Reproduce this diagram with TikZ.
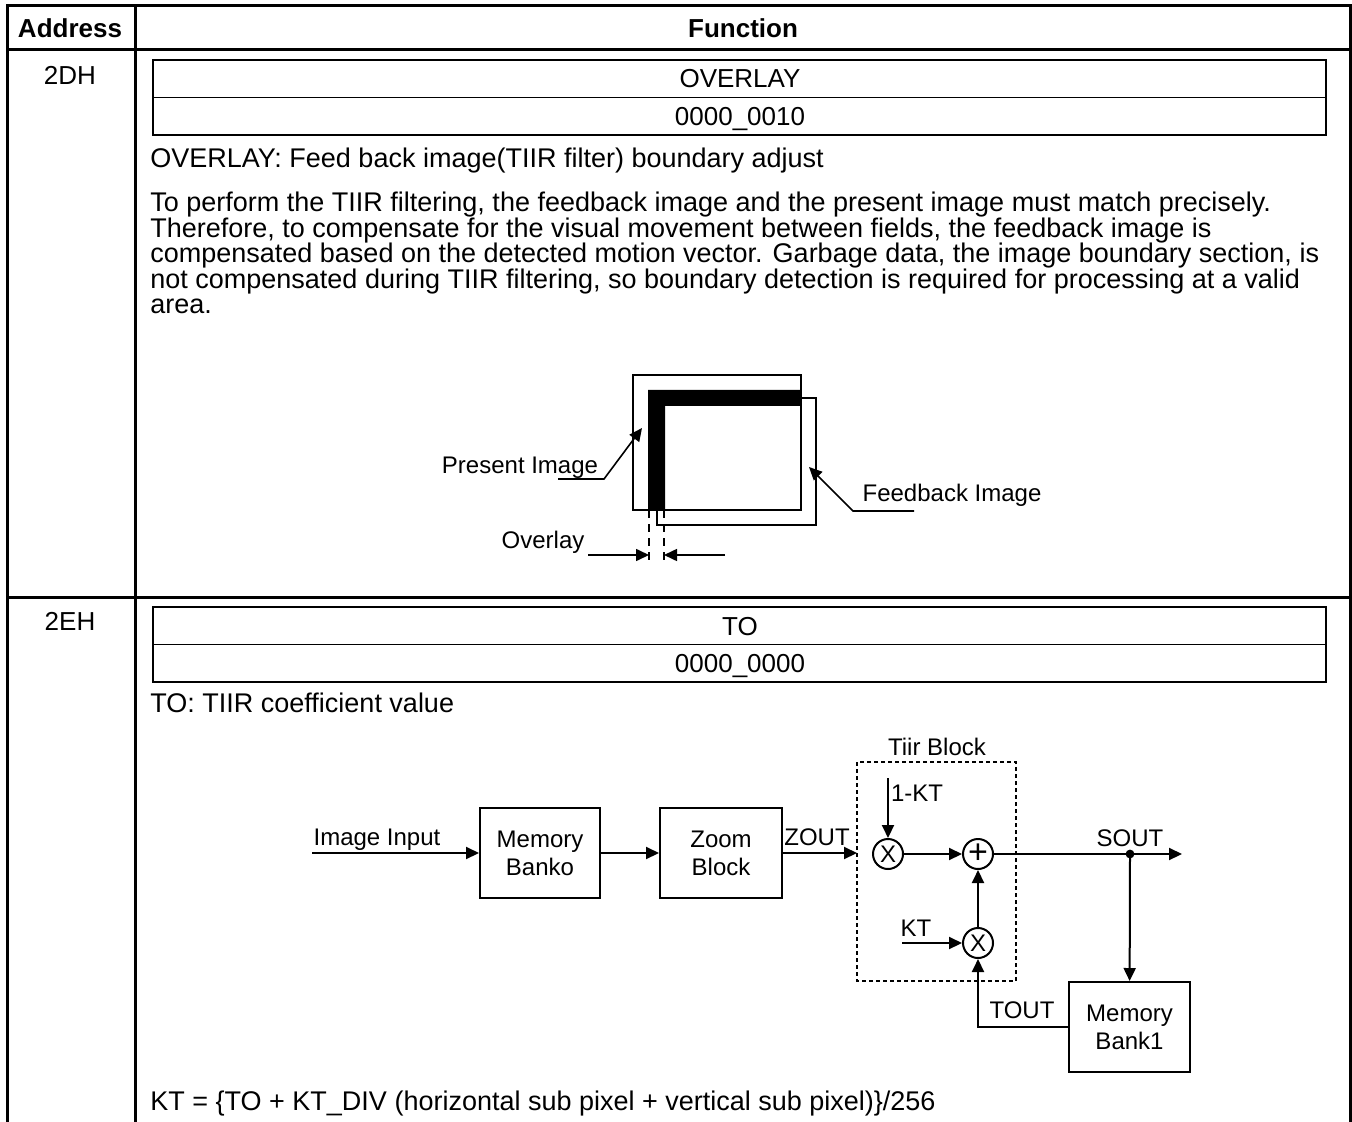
\documentclass[tikz,border=0pt]{standalone}
\usepackage{fontspec}
\setmainfont{Liberation Sans}
\usetikzlibrary{arrows.meta, positioning, calc}
\newcommand{\descfont}{\fontsize{13.5pt}{15pt}\selectfont}
\newcommand{\headfont}{\fontsize{13pt}{15pt}\selectfont}
\newcommand{\figfont}{\fontsize{12pt}{14pt}\selectfont}
\tikzset{
  regsheet/.style={
	x=0.5pt, y=-0.5pt, % one unit is one pixel of the sheet
	>={Triangle[length=6.5pt,width=6pt]}, % filled arrow heads
  },
  grid/.style={line width=1.5pt}, % outer table rules
  regbox/.style={draw, line width=0.9pt}, % register name/value box
  desc/.style={inner sep=0pt, text height=9.5pt, text depth=0pt, font=\descfont},
  head/.style={inner sep=0pt, text height=9.3pt, text depth=0pt, font=\headfont},
  lbl/.style={inner sep=0pt, text height=8.6pt, text depth=0pt, font=\figfont},
  block/.style={draw, line width=1pt, minimum width=60pt, minimum height=45pt,
	align=center, inner sep=0pt, font=\figfont},
  opnode/.style={circle, draw, line width=1pt, minimum size=15pt, inner sep=0pt, font=\figfont},
  flow/.style={->, line width=1pt},
  leader/.style={line width=0.8pt},
}
\begin{document}
\begin{tikzpicture}[regsheet]
	  \useasboundingbox (0,0) rectangle (1352,1122);
	  % table
	  \draw[grid] (7,1122) -- (7,6) -- (1350,6) -- (1350,1122);
	  \draw[grid] (7,50) -- (1350,50);
	  \draw[grid] (7,597) -- (1350,597);
	  \draw[grid] (135,6) -- (135,1122);
	  \node[head, font=\headfont\bfseries] (haddr) at (70,28) {Address};
	  \node[head, font=\headfont\bfseries] (hfunc) at (743,28) {Function};
	  \node[head] (a2dh) at (70,75) {2DH};
	  \node[head] (a2eh) at (70,621.5) {2EH};

	  % 2DH register
	  \draw[regbox] (153,60) rectangle (1326,135);
	  \draw[regbox] (153,97.5) -- (1326,97.5);
	  \node[head] (ovname) at (740,78.5) {OVERLAY};
	  \node[head] (ovval) at (740,116) {0000\_0010};
	  \node[desc, anchor=west] (ovtitle) at (150,158) {OVERLAY: Feed back image(TIIR filter) boundary adjust};
	  \node[desc, anchor=west] (par1) at (150,202) {To perform the TIIR filtering, the feedback image and the present image must match precisely.};
	  \node[desc, anchor=west] (par2) at (150,228) {Therefore, to compensate for the visual movement between fields, the feedback image is};
	  \node[desc, anchor=west] (par3) at (150,253) {compensated based on the detected motion vector. Garbage data, the image boundary section, is};
	  \node[desc, anchor=west] (par4) at (150,279) {not compensated during TIIR filtering, so boundary detection is required for processing at a valid};
	  \node[desc, anchor=west] (par5) at (150,304) {area.};

	  % overlay sketch
	  \draw[line width=1pt] (633,375) rectangle (801,510);
	  \draw[line width=1pt] (657,398) rectangle (816,525);
	  \fill (648,390) -- (801,390) -- (801,406) -- (665,406) -- (665,510) -- (648,510) -- cycle;
	  \draw[line width=1pt, dash pattern=on 4pt off 3pt] (649,510) -- (649,563);
	  \draw[line width=1pt, dash pattern=on 4pt off 3pt] (664,510) -- (664,563);
	  \node[lbl] (presentlbl) at (520,465) {Present Image};
	  \node[lbl] (feedbacklbl) at (952,493) {Feedback Image};
	  \node[lbl] (overlaylbl) at (543,540) {Overlay};
	  \coordinate (presentfoot) at (558,479);
	  \coordinate (presenttip) at (642,428);
	  \coordinate (feedfoot) at (914,511);
	  \coordinate (feedtip) at (809,467);
	  \coordinate (ovleft) at (588,555);
	  \coordinate (ovleftend) at (649,555);
	  \coordinate (ovright) at (725,555);
	  \coordinate (ovrightend) at (664,555);
	  \draw[leader, ->] (presentfoot) -- (604,479) -- (presenttip);
	  \draw[leader, ->] (feedfoot) -- (853,511) -- (feedtip);
	  \draw[leader, ->] (ovleft) -- (ovleftend);
	  \draw[leader, ->] (ovright) -- (ovrightend);

	  % 2EH register
	  \draw[regbox] (153,607) rectangle (1326,682);
	  \draw[regbox] (153,644.5) -- (1326,644.5);
	  \node[head] (toname) at (740,626) {TO};
	  \node[head] (toval) at (740,663) {0000\_0000};
	  \node[desc, anchor=west] (totitle) at (150,702.5) {TO: TIIR coefficient value};

	  % tiir data path
	  \node[block] (banko) at (540,853) {Memory\\Banko};
	  \node[block, minimum width=61pt] (zoomblk) at (721,853) {Zoom\\Block};
	  \node[block, minimum width=60.5pt] (bank1) at (1129.5,1027) {Memory\\Bank1};
	  \draw[line width=0.6pt, dash pattern=on 2pt off 1.5pt] (857,762) rectangle (1016,981);
	  \node[lbl] (tiirlbl) at (937,747) {Tiir Block};
	  \node[opnode] (mula) at (888,854) {X};
	  \node[opnode, font=\fontsize{17pt}{17pt}\selectfont] (add) at (978,854) {+};
	  \node[opnode] (mulb) at (978,943) {X};
	  \coordinate (imgin) at (312,853);
	  \coordinate (zin) at (857,853);
	  \coordinate (ktin) at (902,943);
	  \coordinate (onektin) at (888,778);
	  \coordinate (soutdot) at (1130,854);
	  \coordinate (soutend) at (1182,854);
	  \node[lbl] (imglbl) at (377,837) {Image Input};
	  \node[lbl] (zoutlbl) at (817,837) {ZOUT};
	  \node[lbl] (onektlbl) at (917,793) {1-KT};
	  \node[lbl] (ktlbl) at (916,928) {KT};
	  \node[lbl] (soutlbl) at (1130,838) {SOUT};
	  \node[lbl] (toutlbl) at (1022,1010) {TOUT};
	  \path (imgin) edge[flow] (banko)
		  (banko) edge[flow] (zoomblk)
		  (zoomblk.east |- zin) edge[flow] (zin)
		  (onektin) edge[flow] (mula)
		  (mula) edge[flow] (add)
		  (ktin) edge[flow] (mulb)
		  (mulb) edge[flow] (add)
		  (add) edge[flow] (soutend)
		  (soutdot) edge[flow] (bank1)
	  ;
	  \draw[flow] (bank1.west) -| (mulb.south);
	  \fill (soutdot) circle (2.2pt);

	  \node[desc, anchor=west] (ktformula) at (150,1101) {KT = \{TO + KT\_DIV (horizontal sub pixel + vertical sub pixel)\}/256};
\end{tikzpicture}
\end{document}
